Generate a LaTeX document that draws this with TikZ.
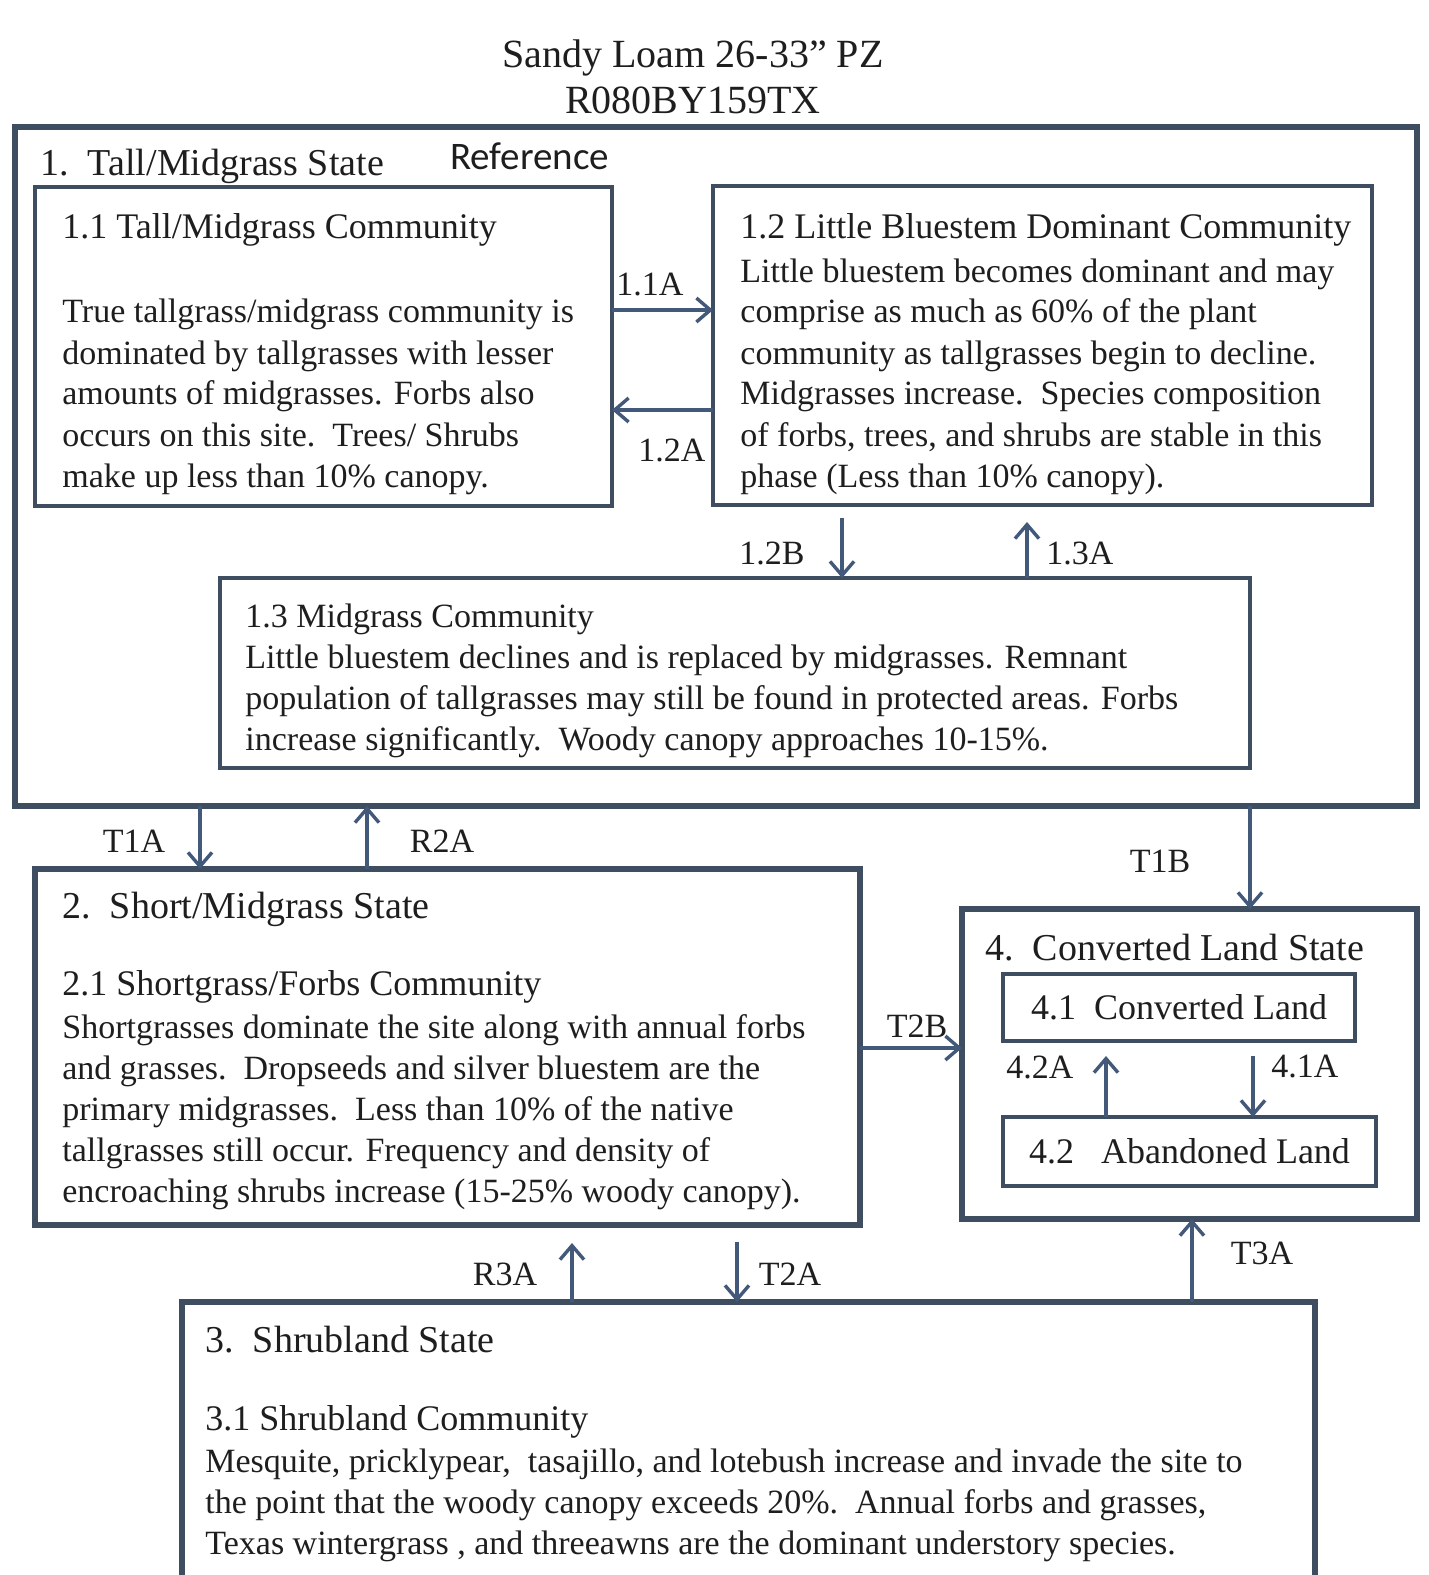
\documentclass[tikz,border=0pt]{standalone}
\usepackage{fontspec}
\setmainfont{Liberation Serif}
\newfontfamily\refsans{Carlito}
\usetikzlibrary{arrows.meta,fit}
\definecolor{boxline}{HTML}{3E4E60}
\definecolor{flowline}{HTML}{43597A}
\definecolor{ink}{HTML}{1E1E1E}

\begin{document}
\begin{tikzpicture}[x=0.5pt,y=-0.5pt,
  statebox/.style={draw=boxline, line width=2.6pt, inner sep=0pt, outer sep=0pt},
  commbox/.style={draw=boxline, line width=1.6pt, inner sep=0pt, outer sep=0pt},
  landbox/.style={draw=boxline, line width=2pt, inner sep=0pt, outer sep=0pt},
  flow/.style={draw=flowline, line width=1.7pt, -{Straight Barb[length=7pt,width=12pt]}},
  hdr/.style={anchor=base west, inner sep=0pt, text=ink, font=\fontsize{19}{22}\selectfont},
  ttl/.style={anchor=base west, inner sep=0pt, text=ink, font=\fontsize{18}{21}\selectfont},
  body/.style={anchor=north west, align=left, inner sep=0pt, text=ink, font=\fontsize{17}{20.5}\selectfont},
  lbl/.style={inner sep=0pt, text=ink, font=\fontsize{17}{20}\selectfont}]
  \fill[white] (0,0) rectangle (1429,1575);
  \useasboundingbox (0,0) rectangle (1429,1575);
  \clip (0,0) rectangle (1429,1575);

  \node[anchor=north, align=center, inner sep=0pt, text=ink, font=\fontsize{20}{23}\selectfont] (title) at (693,39)
    {Sandy Loam 26-33” PZ\\R080BY159TX};

  % state 1
  \node[statebox, fit={(15,127) (1417,806)}] (s1) {};
  \node[hdr] (s1h) at (40,175) {1.\ \ Tall/Midgrass State};
  \node[anchor=base west, inner sep=0pt, text=ink, font=\refsans\fontsize{19.5}{22}\selectfont] (ref) at (450,169) {Reference};

  \node[commbox, fit={(35,187) (612,506)}] (c11) {};
  \node[ttl] (c11t) at (62,238) {1.1 Tall/Midgrass Community};
  \node[body] (c11b) at (62,299) {True tallgrass/midgrass community is\\
    dominated by tallgrasses with lesser\\
    amounts of midgrasses. Forbs also\\
    occurs on this site.\ \ Trees/ Shrubs\\
    make up less than 10\% canopy.};

  \node[commbox, fit={(713,186) (1372,505)}] (c12) {};
  \node[ttl] (c12t) at (740,238) {1.2 Little Bluestem Dominant Community};
  \node[body] (c12b) at (740,258) {Little bluestem becomes dominant and may\\
    comprise as much as 60\% of the plant\\
    community as tallgrasses begin to decline.\\
    Midgrasses increase.\ \ Species composition\\
    of forbs, trees, and shrubs are stable in this\\
    phase (Less than 10\% canopy).};

  \node[commbox, fit={(220,578) (1250,768)}] (c13) {};
  \node[body] (c13b) at (245,603) {1.3 Midgrass Community\\
    Little bluestem declines and is replaced by midgrasses. Remnant\\
    population of tallgrasses may still be found in protected areas. Forbs\\
    increase significantly.\ \ Woody canopy approaches 10-15\%.};

  \draw[flow] (c11.east |- 0,310) -- (c12.west |- 0,310);
  \draw[flow] (c12.west |- 0,410) -- (c11.east |- 0,410);
  \coordinate (b12) at (842,518);
  \coordinate (a13) at (1027,522);
  \draw[flow] (b12) -- (b12 |- c13.north);
  \draw[flow] (a13 |- c13.north) -- (a13);
  \node[lbl] (l11a) at (650,285) {1.1A};
  \node[lbl] (l12a) at (672,450) {1.2A};
  \node[lbl] (l12b) at (772,553) {1.2B};
  \node[lbl] (l13a) at (1080,553) {1.3A};

  % state 2
  \node[statebox, fit={(35,869) (860,1225)}] (s2) {};
  \node[hdr] (s2h) at (62,918) {2.\ \ Short/Midgrass State};
  \node[ttl] (c21t) at (62,995) {2.1 Shortgrass/Forbs Community};
  \node[body] (c21b) at (62,1014) {Shortgrasses dominate the site along with annual forbs\\
    and grasses.\ \ Dropseeds and silver bluestem are the\\
    primary midgrasses.\ \ Less than 10\% of the native\\
    tallgrasses still occur. Frequency and density of\\
    encroaching shrubs increase (15-25\% woody canopy).};

  % state 4
  \node[statebox, fit={(962,909) (1417,1219)}] (s4) {};
  \node[hdr] (s4h) at (985,960) {4.\ \ Converted Land State};
  \node[landbox, fit={(1003,974) (1355,1041)}] (c41) {};
  \node[lbl, font=\fontsize{18}{21}\selectfont] (c41t) at (c41.center) {4.1\ \ Converted Land};
  \node[landbox, fit={(1003,1117) (1376,1186)}] (c42) {};
  \node[lbl, font=\fontsize{18}{21}\selectfont] (c42t) at (c42.center) {4.2\ \ \ Abandoned Land};
  \draw[flow] (c42.north -| 1106,0) -- (1106,1056);
  \draw[flow] (1253,1056) -- (c42.north -| 1253,0);
  \node[lbl] (l42a) at (1040,1067) {4.2A};
  \node[lbl] (l41a) at (1305,1067) {4.1A};

  % state 3
  \node[statebox, fit={(182,1302) (1315,1600)}] (s3) {};
  \node[hdr] (s3h) at (205,1352) {3.\ \ Shrubland State};
  \node[ttl] (c31t) at (205,1430) {3.1 Shrubland Community};
  \node[body] (c31b) at (205,1448) {Mesquite, pricklypear,\ \ tasajillo, and lotebush increase and invade the site to\\
    the point that the woody canopy exceeds 20\%.\ \ Annual forbs and grasses,\\
    Texas wintergrass , and threeawns are the dominant understory species.};

  % transitions
  \draw[flow] (s1.south -| 200,0) -- (s2.north -| 200,0);
  \draw[flow] (s2.north -| 367,0) -- (s1.south -| 367,0);
  \draw[flow] (s1.south -| 1250,0) -- (s4.north -| 1250,0);
  \draw[flow] (s2.east |- 0,1048) -- (s4.west |- 0,1048);
  \coordinate (r3a) at (572,1243);
  \coordinate (t2a) at (737,1242);
  \draw[flow] (r3a |- s3.north) -- (r3a);
  \draw[flow] (t2a) -- (t2a |- s3.north);
  \draw[flow] (s3.north -| 1192,0) -- (s4.south -| 1192,0);
  \node[lbl] (t1a) at (134,841) {T1A};
  \node[lbl] (r2a) at (442,841) {R2A};
  \node[lbl] (t1b) at (1160,861) {T1B};
  \node[lbl] (t2b) at (917,1026) {T2B};
  \node[lbl] (r3al) at (505,1274) {R3A};
  \node[lbl] (t2al) at (790,1274) {T2A};
  \node[lbl] (t3a) at (1262,1253) {T3A};
\end{tikzpicture}
\end{document}
